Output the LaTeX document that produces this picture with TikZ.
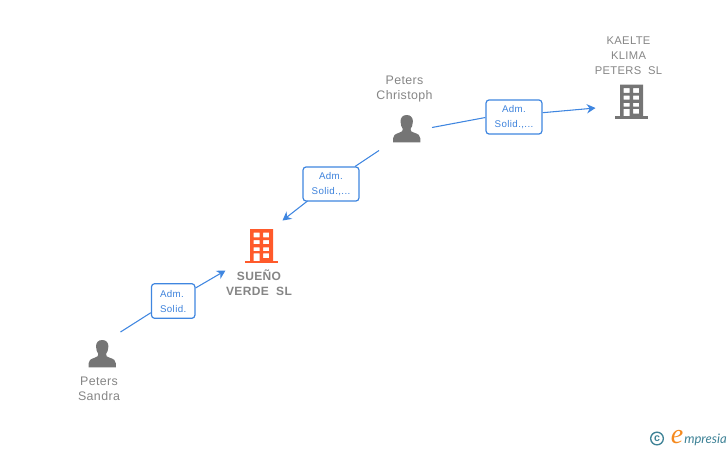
\documentclass[tikz,border=0pt]{standalone}
\usepackage{fontspec}
\setmainfont{Liberation Sans}
\newfontfamily\logofont{Liberation Serif}
\newfontfamily\logosans{Lato}
\usetikzlibrary{arrows.meta}
\definecolor{linkblue}{HTML}{3F86E0}
\definecolor{boxtext}{HTML}{3D82DC}
\definecolor{graytext}{HTML}{858585}
\definecolor{icongray}{HTML}{757575}
\definecolor{orangeicon}{HTML}{FF5A2B}
\definecolor{logoteal}{HTML}{3E8296}
\definecolor{logoorange}{HTML}{F58A1F}
\tikzset{
  x=0.75pt,y=-0.75pt,
  linkbox/.style={draw=linkblue,line width=0.9pt,rounded corners=2.4pt,fill=white,
    text=boxtext,font=\fontsize{7.3}{11.25}\selectfont\addfontfeature{LetterSpace=4},align=center,
    inner sep=0pt,anchor=center},
  smallbox/.style={linkbox,align=left,minimum width=32.6pt,minimum height=26pt,text depth=0pt},
  widebox/.style={linkbox,minimum width=42pt,minimum height=25.6pt},
  link/.style={draw=linkblue,line width=0.8pt},
  linkarrow/.style={link,-{Stealth[length=6.5pt,width=7pt]}},
  namelabel/.style={text=graytext,font=\fontsize{9.3}{11.25}\selectfont\addfontfeature{LetterSpace=3},align=center,inner sep=0pt},
  capslabel/.style={namelabel,font=\fontsize{8.4}{11.25}\selectfont\addfontfeature{LetterSpace=3}},
  boldlabel/.style={namelabel,font=\fontsize{9}{11.25}\selectfont\bfseries\addfontfeature{LetterSpace=3}}
}
% building whose body has its top left corner at (#1,#2)
\newcommand{\buildingicon}[3]{%
  \begin{scope}[shift={(#1,#2)}]
    \fill[#3,even odd rule] (0,0) rectangle (23,32)
      (3.5,3.7) rectangle (9.5,8.3) (13,3.7) rectangle (19,8.3)
      (3.5,11) rectangle (9.5,15) (13,11) rectangle (19,15)
      (3.5,18.3) rectangle (9.5,22) (13,18.3) rectangle (19,22)
      (3.5,24.3) rectangle (9.5,32) (13,24.3) rectangle (19,29);
    \fill[#3] (-5,31.7) rectangle (27.5,34);
  \end{scope}}
% person whose top left corner is at (#1,#2)
\newcommand{\personicon}[2]{%
  \begin{scope}[shift={(#1,#2)}]
    \fill[icongray] (13.7,0) .. controls (9.5,0) and (7.5,2.8) .. (7.5,6.5)
      .. controls (7.5,10) and (8.7,12.3) .. (9.8,14)
      .. controls (10,16) and (9,16.8) .. (6.5,17.6)
      .. controls (2,19) and (0,20.5) .. (0,23.5)
      -- (0,27.3) -- (27.4,27.3) -- (27.4,23.5)
      .. controls (27.4,20.5) and (25.4,19) .. (20.9,17.6)
      .. controls (18.4,16.8) and (17.4,16) .. (17.6,14)
      .. controls (18.7,12.3) and (19.9,10) .. (19.9,6.5)
      .. controls (19.9,2.8) and (17.9,0) .. (13.7,0) -- cycle;
  \end{scope}}
\begin{document}
\begin{tikzpicture}
\useasboundingbox (0,0) rectangle (728,450);
% icons
\personicon{393}{115}
\personicon{88.5}{340}
\buildingicon{620}{84.5}{icongray}
\buildingicon{250}{229}{orangeicon}
% labels
\node[namelabel] (christoph) at (404.5,89.2) {Peters\\Christoph};
\node[namelabel] (sandra) at (99,388.7) {Peters\\Sandra};
\node[capslabel] (kaelte) at (628.5,55.5) {KAELTE\\KLIMA\\PETERS\ \ SL};
\node[boldlabel] (sueno) at (259,282.5) {SUEÑO\\VERDE\ \ SL};
% boxes
\node[smallbox] (b1) at (173.2,301) {Adm.\\Solid.};
\node[widebox] (b2) at (331,184) {Adm.\\Solid.,...};
\node[widebox] (b3) at (514,117) {Adm.\\Solid.,...};
% free ends of connectors
\coordinate (c1a) at (120.5,332);
\coordinate (c1b) at (225.5,270.5);
\coordinate (c2a) at (379,150.5);
\coordinate (c2b) at (282.5,220.5);
\coordinate (c3a) at (432,127.5);
\coordinate (c3b) at (595.5,108);
% connectors
\draw[link] (c1a) -- (b1.west |- 0,312.7);
\draw[linkarrow] (b1.east |- 0,288) -- (c1b);
\draw[link] (c2a) -- (355,166.5);
\draw[linkarrow] (307.5,201) -- (c2b);
\draw[link] (c3a) -- (b3.west |- 0,117.5);
\draw[linkarrow] (b3.east |- 0,112.7) -- (c3b);
% logo
\node[draw=logoteal,line width=1pt,circle,minimum size=9.5pt,inner sep=0pt,text=logoteal,font=\fontsize{8}{8}\selectfont\bfseries] (copyr) at (657,438.5) {c};
\node[text=logoorange,font=\logofont\itshape\fontsize{21}{21}\selectfont,inner sep=0pt,anchor=base] (logoe) at (677,443.5) {e};
\node[text=logoteal,font=\logosans\itshape\fontsize{9.8}{9.8}\selectfont,inner sep=0pt,anchor=base west] (logotext) at (684,443) {mpresia};
\end{tikzpicture}
\end{document}
